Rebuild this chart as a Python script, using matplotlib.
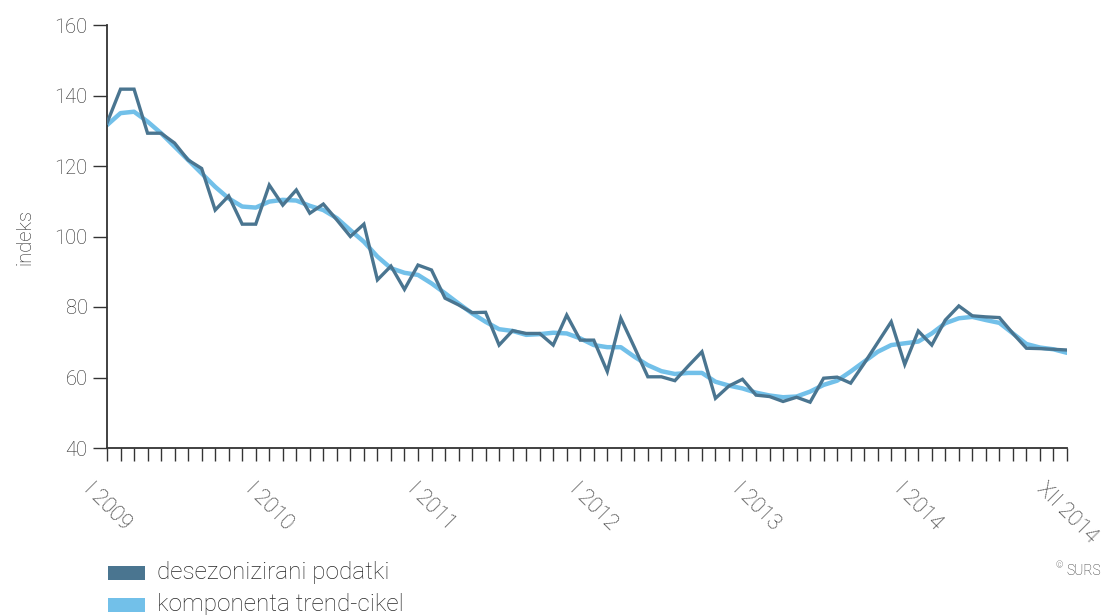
import matplotlib
matplotlib.use("Agg")
import matplotlib.pyplot as plt
from matplotlib.patches import Rectangle

desezonizirani = [132.2, 141.8, 141.8, 129.3, 129.3, 126.5, 121.7, 119.3, 107.5, 111.5, 103.5, 103.5,
                  114.6, 108.9, 113.2, 106.6, 109.2, 104.7, 100.0, 103.5, 87.7, 91.6, 85.0, 91.9,
                  90.5, 82.5, 80.6, 78.4, 78.5, 69.2, 73.3, 72.5, 72.5, 69.2, 77.7, 70.6,
                  70.6, 61.7, 76.8, 68.6, 60.2, 60.2, 59.1, 63.3, 67.3, 54.1, 57.6, 59.5,
                  55.0, 54.6, 53.2, 54.4, 53.0, 59.8, 60.1, 58.4, 64.0, 69.9, 75.8, 63.7,
                  73.2, 69.2, 76.3, 80.3, 77.5, 77.2, 77.0, 72.5, 68.3, 68.2, 68.0, 67.8]
trend_cikel = [131.6, 135.0, 135.4, 132.6, 129.3, 125.5, 121.7, 117.9, 114.1, 110.8, 108.5, 108.2,
               109.9, 110.4, 110.2, 108.7, 107.5, 105.2, 101.8, 98.5, 94.3, 91.0, 89.7, 89.1,
               86.7, 83.9, 81.0, 78.2, 75.8, 73.7, 73.2, 72.1, 72.3, 72.7, 72.5, 71.1,
               69.2, 68.6, 68.6, 65.9, 63.5, 61.8, 61.0, 61.3, 61.3, 58.8, 57.7, 56.9,
               55.7, 54.9, 54.4, 54.6, 56.0, 57.9, 59.1, 61.7, 64.5, 67.3, 69.2, 69.7,
               70.2, 72.5, 75.4, 76.8, 77.2, 76.3, 75.5, 72.5, 69.5, 68.5, 68.0, 67.0]
tick_labels = ["I 2009", "I 2010", "I 2011", "I 2012", "I 2013", "I 2014", "XII 2014"]
tick_months = [0, 12, 24, 36, 48, 60, 71]
legend_labels = ["desezonizirani podatki", "komponenta trend-cikel"]

dark = "#4a7590"
light = "#72c0e9"
txt = "#262626"

plt.rcParams['font.family'] = ['Roboto', 'DejaVu Sans']
plt.rcParams['font.weight'] = 'light'

fig = plt.figure(figsize=(11.05, 6.15), dpi=100)
ax = fig.add_axes([107/1105, 1-448/615, (1067-107)/1105, (448-25)/615])

x = list(range(len(desezonizirani)))
ax.plot(x, trend_cikel, color=light, lw=3.2, solid_capstyle='round', zorder=2)
ax.plot(x, desezonizirani, color=dark, lw=2.4, solid_joinstyle='miter', zorder=3)

ax.set_xlim(0, 71)
ax.set_ylim(40, 160)
ax.set_yticks(range(40, 161, 20))
ax.set_xticks(x, minor=True)
ax.set_xticks(tick_months)
ax.set_xticklabels(tick_labels, rotation=-45, ha='center', va='top', fontsize=15.5,
                   color=txt, fontweight='light')
ax.tick_params(axis='x', which='both', direction='out', length=9, width=1, color="#333333")
ax.tick_params(axis='x', which='major', pad=13)
ax.tick_params(axis='y', direction='out', length=10, width=1, color="#333333", labelsize=14.5,
               labelcolor=txt, pad=4)
for lab in ax.get_yticklabels():
    lab.set_fontweight('light')

for s in ['top', 'right']:
    ax.spines[s].set_visible(False)
for s in ['left', 'bottom']:
    ax.spines[s].set_color("#333333")
    ax.spines[s].set_linewidth(1.3)

ax.set_ylabel("indeks", fontsize=14.5, color=txt, labelpad=14, fontweight='light')

# legend
colors = [dark, light]
ys = [566, 598]
for c, yy, lab in zip(colors, ys, legend_labels):
    fig.patches.append(Rectangle((108/1105, 1-(yy+14)/615), 37/1105, 14/615,
                                 transform=fig.transFigure, facecolor=c, edgecolor='none'))
    fig.text(157/1105, 1-(yy+6)/615, lab, fontsize=17.5, color=txt, va='center', ha='left',
             fontweight='light')

fig.text(1101/1105, 1-571/615, "SURS", fontsize=10, color=txt, ha='right', va='center',
         fontweight='light')
fig.text(1063/1105, 1-566/615, "©", fontsize=6.5, color=txt, ha='right', va='center',
         fontweight='light')

fig.savefig("out.png", dpi=100)
